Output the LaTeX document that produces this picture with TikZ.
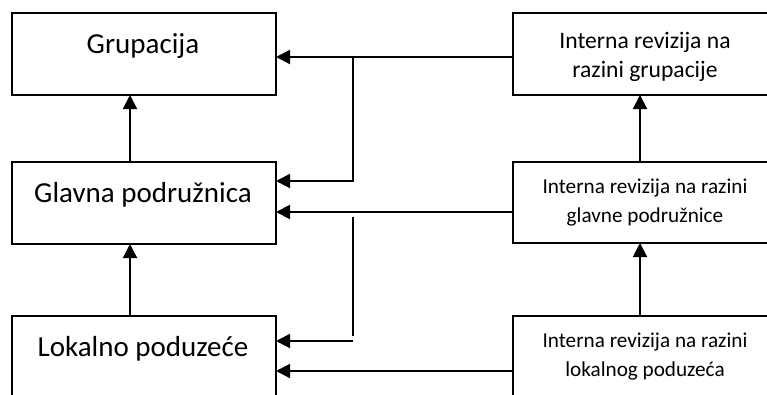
\documentclass[tikz,border=0pt]{standalone}
\usepackage{fontspec}
\setmainfont{Carlito}
\usetikzlibrary{arrows.meta,calc}
\begin{document}
\begin{tikzpicture}[x=1pt,y=-1pt,
  box/.style={draw, line width=2pt, anchor=north west, inner sep=0pt, outer sep=0pt},
  arr/.style={line width=2pt, -{Triangle[length=14pt,width=14pt]}},
  ln/.style={line width=2pt},
  bigtxt/.style={font=\fontsize{29}{35}\selectfont, anchor=base, inner sep=0pt},
  toptxt/.style={font=\fontsize{23.6}{29}\selectfont, anchor=base, align=center, inner sep=0pt},
  smalltxt/.style={font=\fontsize{21.2}{28.5}\selectfont, anchor=base, align=center, inner sep=0pt}]
\useasboundingbox (0,0) rectangle (767,394);
\clip (0,0) rectangle (767,394);
% left boxes
\node[box, minimum width=264pt, minimum height=82pt] (g) at (12,13) {};
\node[box, minimum width=264pt, minimum height=82pt] (gp) at (12,162) {};
\node[box, minimum width=264pt, minimum height=120pt] (lp) at (12,316) {};
% right boxes
\node[box, minimum width=280pt, minimum height=82pt] (r1) at (513,13) {};
\node[box, minimum width=280pt, minimum height=81pt] (r2) at (513,162) {};
\node[box, minimum width=280pt, minimum height=120pt] (r3) at (513,316) {};
% texts
\node[bigtxt] (gt) at ($(g.north west)+(131,40)$) {Grupacija};
\node[bigtxt] (gpt) at ($(gp.north west)+(131,40)$) {Glavna podružnica};
\node[bigtxt] (lpt) at ($(lp.north west)+(131,40)$) {Lokalno poduzeće};
\node[toptxt] (r1t) at ($(r1.north west)+(132,64)$) {Interna revizija na\\razini grupacije};
\node[smalltxt] (r2t) at ($(r2.north west)+(132,60)$) {Interna revizija na razini\\glavne podružnice};
\node[smalltxt] (r3t) at ($(r3.north west)+(132,60)$) {Interna revizija na razini\\lokalnog poduzeća};
% junction coordinates
\coordinate (j1) at (353,57);
\coordinate (j1b) at (353,181);
\coordinate (j2t) at (353,217);
\coordinate (j2b) at (353,336);
\coordinate (j3) at (353,341);
% horizontal connectors
\draw[arr] (r1.west |- j1) -- (g.east |- j1);
\draw[arr] (j1) -- (j1b) -- (gp.east |- j1b);
\draw[arr] (r2.west |- 0,212) -- (gp.east |- 0,212);
\draw[ln] (j2t) -- (j2b);
\draw[arr] (j3) -- (lp.east |- j3);
\draw[arr] (r3.west |- 0,371) -- (lp.east |- 0,371);
% vertical connectors
\draw[arr] (gp.north -| 130,0) -- (g.south -| 130,0);
\draw[arr] (lp.north -| 130,0) -- (gp.south -| 130,0);
\draw[arr] (r2.north -| 640,0) -- (r1.south -| 640,0);
\draw[arr] (r3.north -| 640,0) -- (r2.south -| 640,0);
\end{tikzpicture}
\end{document}
